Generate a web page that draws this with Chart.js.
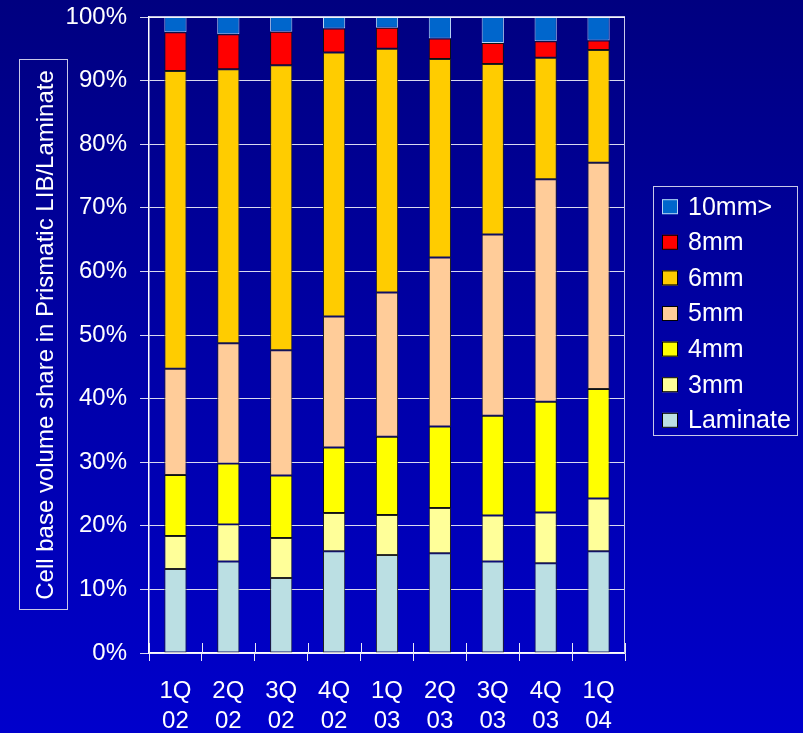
<!DOCTYPE html>
<html>
<head>
<meta charset="utf-8">
<script src="https://cdn.jsdelivr.net/npm/chart.js@4/dist/chart.umd.min.js"></script>
<style>
  html, body { margin: 0; padding: 0; }
  body {
    width: 803px; height: 733px; overflow: hidden;
    background: linear-gradient(to bottom, #000080 0%, #0000A8 50%, #0000CC 100%);
  }
  #wrap { position: relative; width: 803px; height: 733px; }
</style>
</head>
<body>
<div id="wrap"><canvas id="chart" width="803" height="733"></canvas></div>
<script>
// Quarters on the category axis (two-line labels)
const categories = [
  ['1Q', '02'], ['2Q', '02'], ['3Q', '02'], ['4Q', '02'],
  ['1Q', '03'], ['2Q', '03'], ['3Q', '03'], ['4Q', '03'], ['1Q', '04']
];

// Volume share by cell thickness, % of prismatic LIB + laminate
const laminate = [13.2, 14.4, 11.8, 16.0, 15.4, 15.7, 14.4, 14.1, 16.0];
const mm3      = [5.2, 5.8, 6.3, 6.0, 6.3, 7.1, 7.2, 8.0, 8.3];
const mm4      = [9.6, 9.6, 9.8, 10.3, 12.3, 12.8, 15.7, 17.4, 17.2];
const mm5      = [16.7, 18.9, 19.7, 20.6, 22.7, 26.6, 28.5, 35.0, 35.6];
const mm6      = [46.8, 43.1, 44.8, 41.5, 38.3, 31.2, 26.8, 19.1, 17.7];
const mm8      = [6.1, 5.5, 5.3, 3.8, 3.3, 3.2, 3.3, 2.6, 1.5];
const mm10     = [2.4, 2.7, 2.3, 1.8, 1.7, 3.4, 4.1, 3.8, 3.7];

const seriesLabels = ['Laminate', '3mm', '4mm', '5mm', '6mm', '8mm', '10mm>'];
const yTicks = [0, 10, 20, 30, 40, 50, 60, 70, 80, 90, 100];
const yTitle = 'Cell base volume share in Prismatic LIB/Laminate';

const FONT = '"Liberation Sans", Arial, sans-serif';

const colors = ['#BBDFE3', '#FFFF99', '#FFFF00', '#FFCC99', '#FFCC00', '#FF0000', '#0066CC'];
const borders = ['#222', '#222', '#111', '#222', '#222', '#111', '#B8D4F4'];
const seriesData = [laminate, mm3, mm4, mm5, mm6, mm8, mm10];

const datasets = seriesData.map((d, i) => ({
  label: seriesLabels[i],
  data: d,
  backgroundColor: colors[i],
  borderColor: borders[i],
  borderWidth: 1,
  borderSkipped: false,
  categoryPercentage: 1.0,
  barPercentage: 0.42
}));

// Frame, short up-ticks on the category axis, boxed axis title and boxed legend
const decorations = {
  id: 'decorations',
  afterDraw(chart) {
    const ctx = chart.ctx;
    const a = chart.chartArea;
    const xs = chart.scales.x;
    ctx.save();

    // right edge of the plot frame
    ctx.strokeStyle = '#C8C8E8';
    ctx.lineWidth = 1;
    ctx.beginPath();
    ctx.moveTo(a.right - 0.5, a.top);
    ctx.lineTo(a.right - 0.5, a.bottom);
    ctx.stroke();

    // top edge
    ctx.strokeStyle = '#FFFFFF';
    ctx.lineWidth = 1.5;
    ctx.beginPath();
    ctx.moveTo(a.left, a.top);
    ctx.lineTo(a.right, a.top);
    ctx.stroke();

    // category boundary ticks reaching above the axis line
    const n = chart.data.labels.length;
    const step = (xs.right - xs.left) / n;
    ctx.strokeStyle = '#E8E8F8';
    ctx.lineWidth = 1;
    for (let i = 0; i <= n; i++) {
      const x = Math.round(xs.left + i * step) + 0.5;
      ctx.beginPath();
      ctx.moveTo(x, a.bottom - 10);
      ctx.lineTo(x, a.bottom);
      ctx.stroke();
    }

    // y-axis title in its box
    ctx.strokeStyle = '#C8C8E8';
    ctx.lineWidth = 1;
    ctx.strokeRect(19.5, 59.5, 48, 550);
    ctx.fillStyle = '#FFFFFF';
    ctx.font = '24px ' + FONT;
    ctx.textAlign = 'center';
    ctx.textBaseline = 'alphabetic';
    ctx.save();
    ctx.translate(52.5, 335);
    ctx.rotate(-Math.PI / 2);
    ctx.fillText(yTitle, 0, 0);
    ctx.restore();

    // legend, top entry is the top of the stack
    const lx = 653.5, ly = 186.5, lw = 144, lh = 249;
    ctx.strokeStyle = '#C8C8E8';
    ctx.strokeRect(lx, ly, lw, lh);
    const ds = chart.data.datasets;
    const rowGap = 35.6;
    ctx.font = '25px ' + FONT;
    ctx.textAlign = 'left';
    ctx.textBaseline = 'middle';
    for (let k = 0; k < ds.length; k++) {
      const d = ds[ds.length - 1 - k];
      const cy = 206.7 + k * rowGap;
      ctx.fillStyle = d.backgroundColor;
      ctx.fillRect(662, cy - 7.5, 16, 15);
      ctx.strokeStyle = d.borderColor === '#B8D4F4' ? '#B8D4F4' : '#000000';
      ctx.lineWidth = 1;
      ctx.strokeRect(662.5, cy - 7, 15, 14);
      ctx.fillStyle = '#FFFFFF';
      ctx.fillText(d.label, 688, cy + 1);
    }
    ctx.restore();
  }
};

new Chart(document.getElementById('chart'), {
  type: 'bar',
  data: { labels: categories, datasets: datasets },
  options: {
    responsive: false,
    animation: false,
    devicePixelRatio: 1,
    layout: { padding: { top: 17, right: 178, bottom: 0, left: 0 } },
    plugins: {
      legend: { display: false },
      tooltip: { enabled: false },
      title: { display: false }
    },
    scales: {
      x: {
        stacked: true,
        offset: true,
        afterFit(scale) {
          scale.height = 80;
          scale.paddingLeft = 0;
          scale.paddingRight = 0;
        },
        grid: {
          display: true,
          drawOnChartArea: false,
          offset: true,
          color: '#E8E8F8',
          tickLength: 8,
          lineWidth: 1
        },
        border: { color: '#FFFFFF', width: 1.5 },
        ticks: {
          color: '#FFFFFF',
          font: { family: FONT, size: 24, lineHeight: 1.25 },
          padding: 15,
          maxRotation: 0,
          autoSkip: false
        }
      },
      y: {
        stacked: true,
        min: 0,
        max: 100,
        afterFit(scale) {
          scale.width = 149;
          scale.paddingTop = 0;
          scale.paddingBottom = 0;
        },
        afterBuildTicks(scale) { scale.ticks = yTicks.map(v => ({ value: v })); },
        grid: {
          color: '#D8D8F0',
          lineWidth: 1,
          tickLength: 9
        },
        border: { color: '#FFFFFF', width: 1.5 },
        ticks: {
          color: '#FFFFFF',
          font: { family: FONT, size: 24 },
          padding: 13,
          callback: v => v + '%'
        }
      }
    }
  },
  plugins: [decorations]
});
</script>
</body>
</html>
